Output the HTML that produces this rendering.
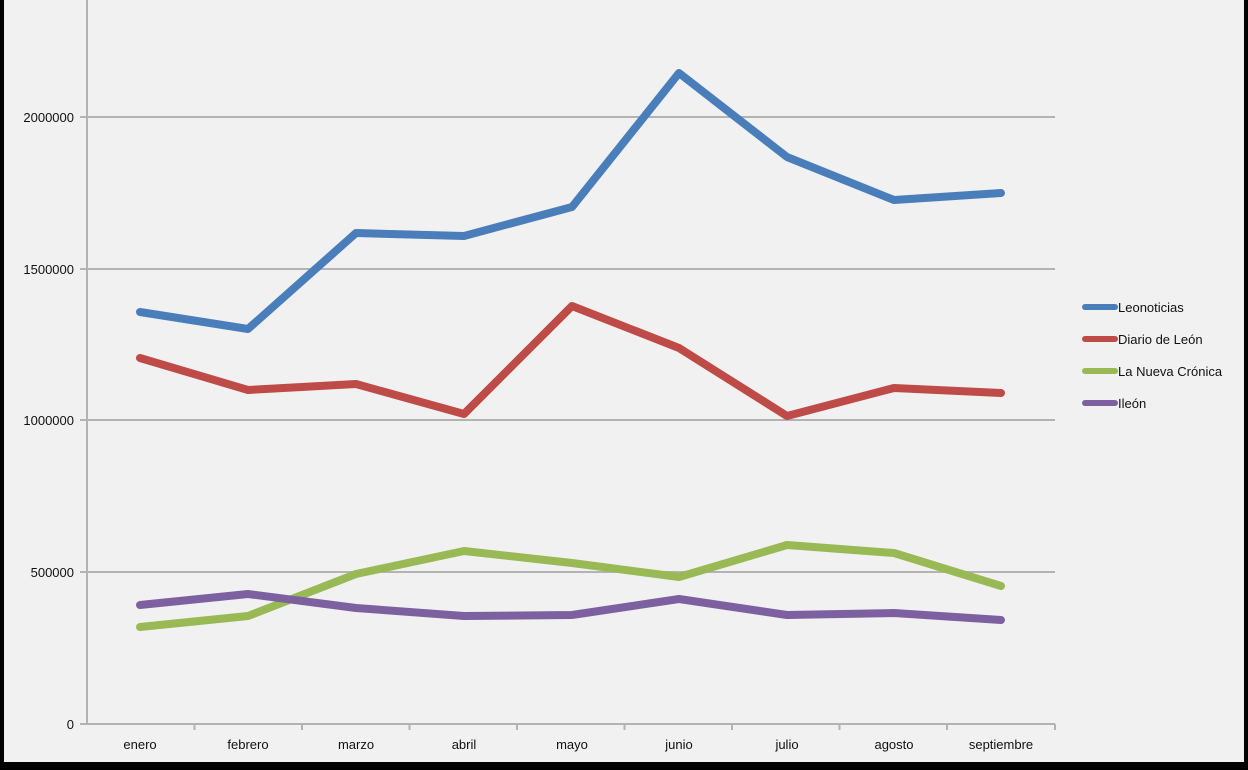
<!DOCTYPE html>
<html><head><style>
html,body{margin:0;padding:0;background:#000;}
svg{display:block;}
text{font-family:"Liberation Sans",sans-serif;font-size:13px;fill:#111;}
</style></head><body>
<svg width="1248" height="770" viewBox="0 0 1248 770" xmlns="http://www.w3.org/2000/svg">
<rect x="0" y="0" width="1248" height="770" fill="#000"/>
<rect x="4" y="0" width="1240" height="762" fill="#f1f1f1"/>
<g stroke="#b3b3b3" stroke-width="2">
<line x1="87" y1="117" x2="1055" y2="117"/>
<line x1="87" y1="269" x2="1055" y2="269"/>
<line x1="87" y1="420" x2="1055" y2="420"/>
<line x1="87" y1="572" x2="1055" y2="572"/>
<line x1="87" y1="724" x2="1055" y2="724"/>
<line x1="87" y1="0" x2="87" y2="724"/>
<line x1="80" y1="117" x2="87" y2="117"/><line x1="80" y1="269" x2="87" y2="269"/><line x1="80" y1="420" x2="87" y2="420"/><line x1="80" y1="572" x2="87" y2="572"/><line x1="80" y1="724" x2="87" y2="724"/>
<line x1="194.5" y1="724" x2="194.5" y2="730"/><line x1="302" y1="724" x2="302" y2="730"/><line x1="409.5" y1="724" x2="409.5" y2="730"/><line x1="517" y1="724" x2="517" y2="730"/><line x1="624.5" y1="724" x2="624.5" y2="730"/><line x1="732" y1="724" x2="732" y2="730"/><line x1="839.5" y1="724" x2="839.5" y2="730"/><line x1="947" y1="724" x2="947" y2="730"/><line x1="1055" y1="724" x2="1055" y2="730"/>
</g>
<g text-anchor="end">
<text x="74" y="122">2000000</text><text x="74" y="274">1500000</text><text x="74" y="425">1000000</text><text x="74" y="577">500000</text><text x="74" y="729">0</text>
</g>
<g text-anchor="middle">
<text x="140" y="749">enero</text><text x="248" y="749">febrero</text><text x="356" y="749">marzo</text><text x="464" y="749">abril</text><text x="572" y="749">mayo</text><text x="679" y="749">junio</text><text x="787" y="749">julio</text><text x="894" y="749">agosto</text><text x="1001" y="749">septiembre</text>
</g>
<g fill="none" stroke-width="8" stroke-linejoin="round" stroke-linecap="round">
<polyline stroke="#4a7ebb" points="140,312 248,329 356,233 464,236 572,207 679,73 787,157 894,200 1001,193"/>
<polyline stroke="#be4b48" points="140,358 248,390 356,384 464,414 572,306 679,348 787,416 894,388 1001,393"/>
<polyline stroke="#98b954" points="140,627 248,616 356,574 464,551 572,563 679,577 787,545 894,553 1001,586"/>
<polyline stroke="#7d60a0" points="140,605 248,594 356,608 464,616 572,615 679,599 787,615 894,613 1001,620"/>
</g>
<g stroke-width="6" stroke-linecap="round">
<line x1="1085" y1="307" x2="1115" y2="307" stroke="#4a7ebb"/>
<line x1="1085" y1="339" x2="1115" y2="339" stroke="#be4b48"/>
<line x1="1085" y1="371" x2="1115" y2="371" stroke="#98b954"/>
<line x1="1085" y1="403" x2="1115" y2="403" stroke="#7d60a0"/>
</g>
<text x="1118" y="312">Leonoticias</text>
<text x="1118" y="344">Diario de León</text>
<text x="1118" y="376">La Nueva Crónica</text>
<text x="1118" y="408">Ileón</text>
</svg>
</body></html>
